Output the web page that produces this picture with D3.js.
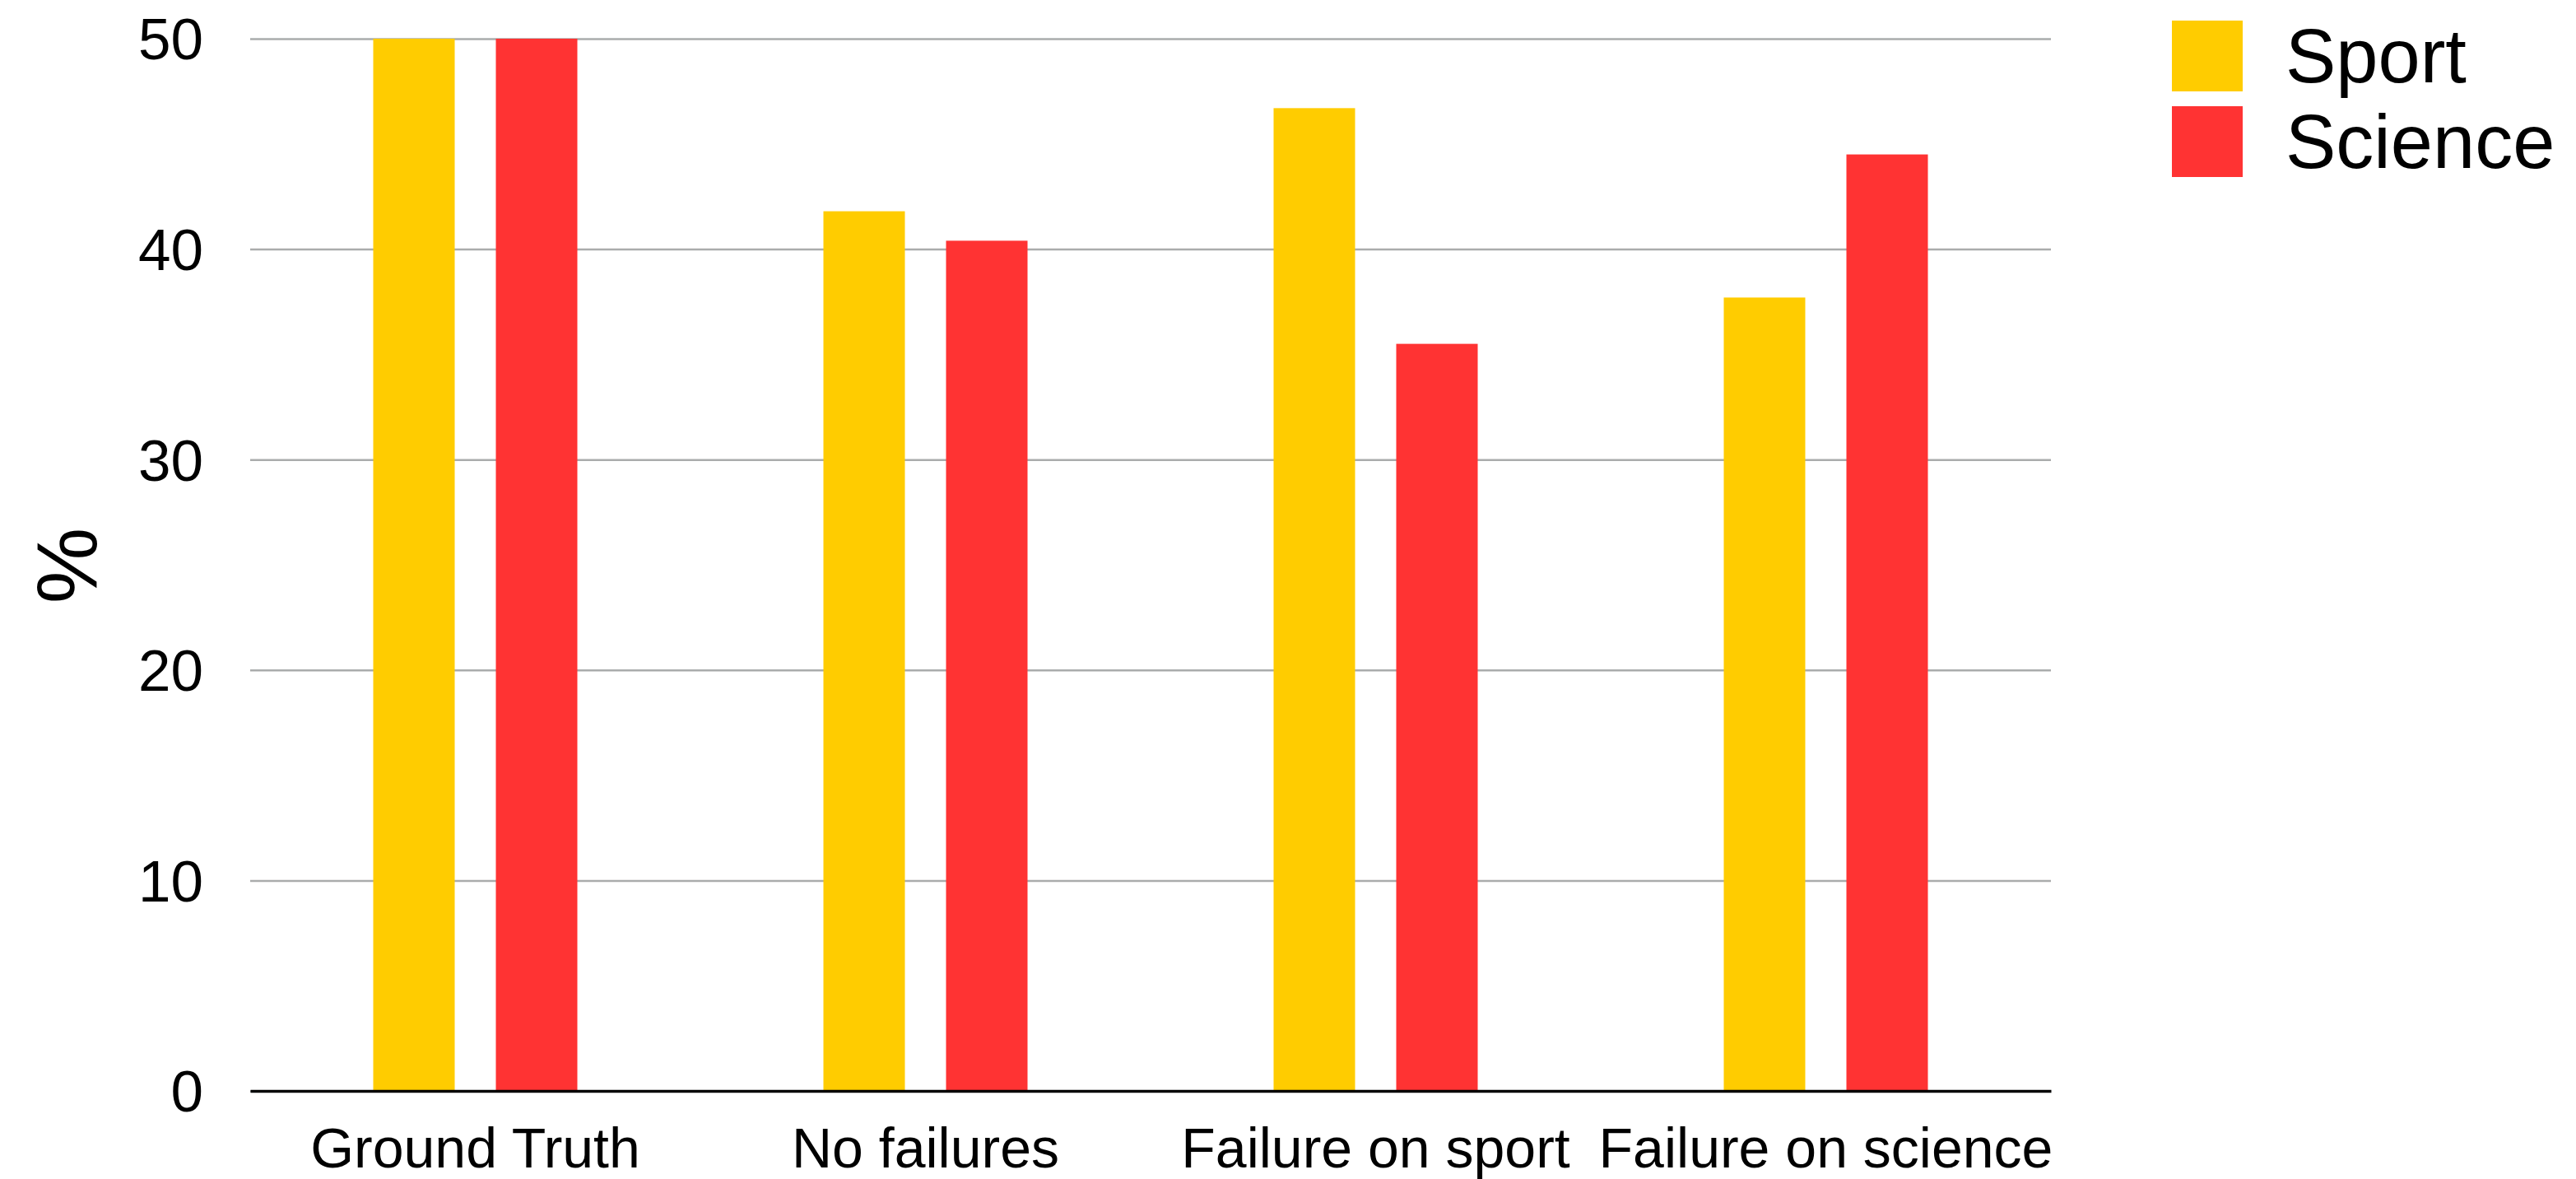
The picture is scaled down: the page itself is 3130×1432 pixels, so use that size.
<!DOCTYPE html>
<html>
<head>
<meta charset="utf-8">
<script src="https://cdn.jsdelivr.net/npm/d3@7"></script>
<style>
  body { margin: 0; background: #fff; }
  svg text { font-family: "Liberation Sans", Arial, sans-serif; fill: #000; }
</style>
</head>
<body>
<svg></svg>
<script>
// data
let categories = ["Ground Truth", "No failures", "Failure on sport", "Failure on science"];
let seriesNames = ["Sport", "Science"];
let sportValues = [50, 41.8, 46.7, 37.7];
let scienceValues = [50, 40.4, 35.5, 44.5];
let yTicks = [0, 10, 20, 30, 40, 50];
let colors = ["#ffcc00", "#ff3333"];

let width = 3130;
let height = 1432;
let plotLeft = 304, plotRight = 2492, plotTop = 47, plotBottom = 1325;

let svg = d3.select("svg").attr("width", width).attr("height", height);

let rows = categories.map((c, i) => ({cat: c, vals: [sportValues[i], scienceValues[i]]}));

let x0 = d3.scaleBand()
  .domain(categories)
  .range([plotLeft, plotRight])
  .paddingInner(0.5466)
  .paddingOuter(0.2733);

let x1 = d3.scaleBand()
  .domain(seriesNames)
  .range([0, x0.bandwidth()])
  .paddingInner(0.3356);

let y = d3.scaleLinear().domain([0, 50]).range([plotBottom, plotTop]);

// gridlines + tick labels
let yAxis = d3.axisLeft(y).tickValues(yTicks).tickSize(-(plotRight - plotLeft)).tickPadding(57);
let gy = svg.append("g").attr("transform", "translate(" + plotLeft + ",0)").call(yAxis);
gy.select(".domain").remove();
gy.selectAll(".tick line").attr("stroke", "#aaacac").attr("stroke-width", 2.5);
gy.selectAll(".tick text").style("font-size", "71px").attr("dy", "0.35em");

// bars
svg.append("g").selectAll("g")
  .data(rows)
  .enter()
  .append("g")
  .attr("transform", d => "translate(" + x0(d.cat) + ",0)")
  .selectAll("rect")
  .data(d => d.vals.map((v, i) => ({name: seriesNames[i], v: v, i: i})))
  .enter()
  .append("rect")
  .attr("x", d => x1(d.name))
  .attr("width", x1.bandwidth())
  .attr("y", d => y(d.v))
  .attr("height", d => y(0) - y(d.v))
  .attr("fill", d => colors[d.i]);

// x axis
let xAxis = d3.axisBottom(x0).tickSize(0).tickPadding(45);
let gx = svg.append("g").attr("transform", "translate(0," + plotBottom + ")").call(xAxis);
gx.select(".domain").attr("stroke", "#000").attr("stroke-width", 3.5);
gx.selectAll(".tick text").style("font-size", "68px");

// y label
svg.append("text")
  .attr("transform", "translate(117,687) rotate(-90)")
  .attr("text-anchor", "middle")
  .style("font-size", "104px")
  .text("%");

// legend
let legend = svg.append("g").selectAll("g")
  .data(seriesNames)
  .enter()
  .append("g")
  .attr("transform", (d, i) => "translate(2639," + (25 + i * 104) + ")");

legend.append("rect")
  .attr("width", 86)
  .attr("height", 86)
  .attr("fill", (d, i) => colors[i]);

legend.append("text")
  .attr("x", 138)
  .attr("y", 43)
  .attr("dy", "0.35em")
  .style("font-size", "92px")
  .text(d => d);
</script>
</body>
</html>
